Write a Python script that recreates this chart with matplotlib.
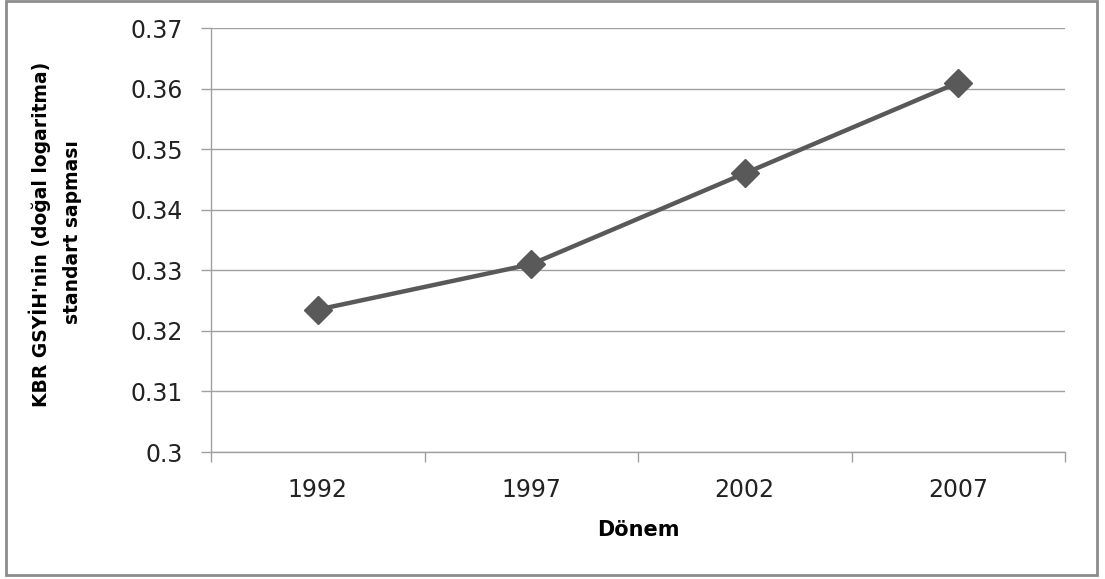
import matplotlib.pyplot as plt
import numpy as np
from matplotlib.patches import Rectangle

# dönemler ve KBR GSYİH standart sapmaları
years = ["1992", "1997", "2002", "2007"]
std_dev = [0.3235, 0.331, 0.346, 0.361]
y_ticks = [0.30, 0.31, 0.32, 0.33, 0.34, 0.35, 0.36, 0.37]
y_tick_labels = ["0.3", "0.31", "0.32", "0.33", "0.34", "0.35", "0.36", "0.37"]
y_title = ["KBR GSYİH'nin (doğal logaritma)", "standart sapması"]

plt.rcParams['font.family'] = ['DejaVu Sans']

fig = plt.figure(figsize=(11.05, 5.79), dpi=100)
ax = fig.add_axes([211 / 1105, 1 - 452 / 579, (1065 - 211) / 1105, (452 - 28) / 579])

x = np.arange(len(years))
ax.plot(x, std_dev, color="#595959", lw=3.2, marker="D", markersize=14,
        markerfacecolor="#595959", markeredgecolor="#595959", zorder=3)

ax.set_xlim(-0.5, len(years) - 0.5)
ax.set_ylim(0.30, 0.37)
ax.set_yticks(y_ticks)
ax.set_yticklabels(y_tick_labels)
ax.yaxis.grid(True, color="#a0a0a0", lw=1)
ax.set_axisbelow(True)

# kategori etiketleri ortada, tik çizgileri aralarda
ax.set_xticks(np.arange(-0.5, len(years), 1.0))
ax.set_xticklabels([])
ax.set_xticks(x, minor=True)
ax.set_xticklabels(years, minor=True)
ax.tick_params(axis="x", which="minor", length=0, pad=19, labelsize=17,
               labelcolor="#222222")
ax.tick_params(axis="x", which="major", length=7, color="#a0a0a0", width=1)
ax.tick_params(axis="y", length=7, color="#a0a0a0", width=1, labelsize=17,
               pad=13, labelcolor="#222222")

for side in ["top", "right"]:
    ax.spines[side].set_visible(False)
for side in ["left", "bottom"]:
    ax.spines[side].set_color("#a0a0a0")
    ax.spines[side].set_linewidth(1)

ax.set_xlabel("Dönem", fontsize=15, fontweight="bold", labelpad=13)

# iki satırlık dikey eksen başlığı
fig.text(40 / 1105, 1 - 234 / 579, y_title[0], rotation=90, ha="center",
         va="center", fontsize=13.5, fontweight="bold")
fig.text(72 / 1105, 1 - 232 / 579, y_title[1], rotation=90, ha="center",
         va="center", fontsize=13.5, fontweight="bold")

fig.patches.append(Rectangle((6 / 1105, 4 / 579), 1091 / 1105, 574 / 579,
                             transform=fig.transFigure, fill=False,
                             edgecolor="#8c8c8c", lw=2))

fig.savefig("out.png", dpi=100)
